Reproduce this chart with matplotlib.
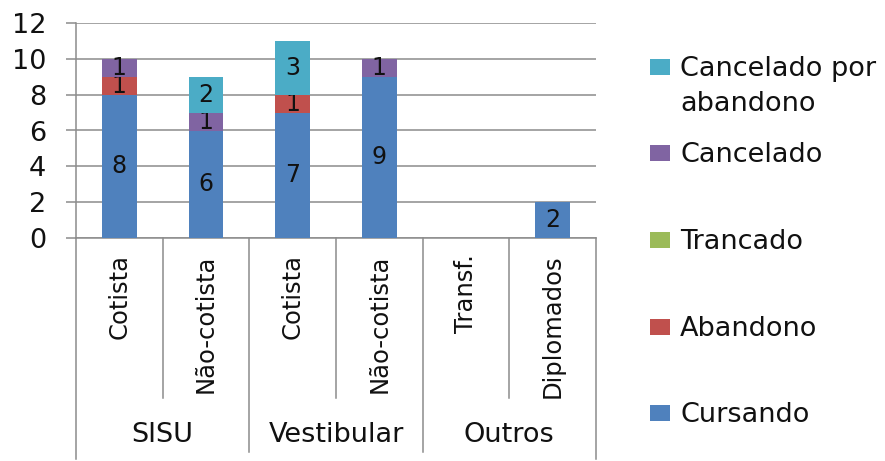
import textwrap
import numpy as np
import matplotlib
matplotlib.use("Agg")
import matplotlib.pyplot as plt
from matplotlib.patches import Rectangle

# categories (sub-label, group)
subcats = ["Cotista", "Não-cotista", "Cotista", "Não-cotista", "Transf.", "Diplomados"]
groups = ["SISU", "Vestibular", "Outros"]
group_sizes = [2, 2, 2]

# stacked series, bottom to top
series_names = ["Cursando", "Abandono", "Trancado", "Cancelado", "Cancelado por abandono"]
cursando = [8, 6, 7, 9, 0, 2]
abandono = [1, 0, 1, 0, 0, 0]
trancado = [0, 0, 0, 0, 0, 0]
cancelado = [1, 1, 0, 1, 0, 0]
canc_abandono = [0, 2, 3, 0, 0, 0]
series_values = [cursando, abandono, trancado, cancelado, canc_abandono]
colors = ["#4F81BD", "#C0504D", "#9BBB59", "#8064A2", "#4BACC6"]

FS = 19.5       # horizontal text
FS_BAR = 17     # values inside the bars
FS_ROT = 17.5   # rotated category labels
TXT = "#111111"
GRID = "#8c8c8c"

plt.rcParams["font.family"] = ["DejaVu Sans"]

fig = plt.figure(figsize=(8.85, 4.61), dpi=100)
ax = fig.add_axes([76 / 885, 1 - 238 / 461, 520 / 885, 215 / 461])

x = np.arange(len(subcats))
bottom = np.zeros(len(subcats))
for name, vals, col in zip(series_names, series_values, colors):
    vals = np.array(vals, dtype=float)
    bars = ax.bar(x, vals, 0.40, bottom=bottom, color=col, label=name, zorder=3)
    ax.bar_label(bars, labels=[str(int(v)) if v > 0 else "" for v in vals],
                 label_type="center", fontsize=FS_BAR, color=TXT)
    bottom += vals

ax.set_xlim(-0.5, len(subcats) - 0.5)
ax.set_ylim(0, 12)
ax.set_yticks(range(0, 13, 2))
ax.yaxis.grid(True, color=GRID, linewidth=1.1, zorder=0)
ax.tick_params(axis="y", length=7.5, width=1.1, color=GRID, pad=14,
               labelsize=FS, labelcolor=TXT)
ax.tick_params(axis="x", length=0, labelbottom=False)
for s in ["top", "right"]:
    ax.spines[s].set_visible(False)
for s in ["left", "bottom"]:
    ax.spines[s].set_color(GRID)
    ax.spines[s].set_linewidth(1.1)

# category table under the axis
trans = ax.get_xaxis_transform()
line_kw = dict(color=GRID, linewidth=1.1, transform=trans, clip_on=False)
edges = np.arange(len(subcats) + 1) - 0.5
group_edges = np.cumsum([0] + group_sizes) - 0.5
for e in edges:
    if e in (edges[0], edges[-1]):
        ax.plot([e, e], [0, -1.03], **line_kw)
    elif e in group_edges:
        ax.plot([e, e], [0, -0.995], **line_kw)
    else:
        ax.plot([e, e], [0, -0.744], **line_kw)

for xi, lab in zip(x, subcats):
    ax.text(xi, -0.075, lab, rotation=90, ha="center", va="top",
            fontsize=FS_ROT, color=TXT, transform=trans)

start = 0
for g, n in zip(groups, group_sizes):
    ax.text(start + (n - 1) / 2, -0.915, g, ha="center", va="center",
            fontsize=FS, color=TXT, transform=trans)
    start += n

# legend, top entry is the last series; long names wrap onto a second line
rows_y = [67, 153, 240, 327, 413]
for name, col, yp in zip(series_names[::-1], colors[::-1], rows_y):
    fig.patches.append(Rectangle((650 / 885, 1 - (yp + 8) / 461), 20 / 885, 16 / 461,
                                 facecolor=col, edgecolor="none",
                                 transform=fig.transFigure))
    for i, line in enumerate(textwrap.wrap(name, 14)):
        fig.text(680 / 885, 1 - (yp + 9 + 35 * i) / 461, line,
                 ha="left", va="baseline", fontsize=FS, color=TXT)

fig.savefig("out.png", dpi=100)
